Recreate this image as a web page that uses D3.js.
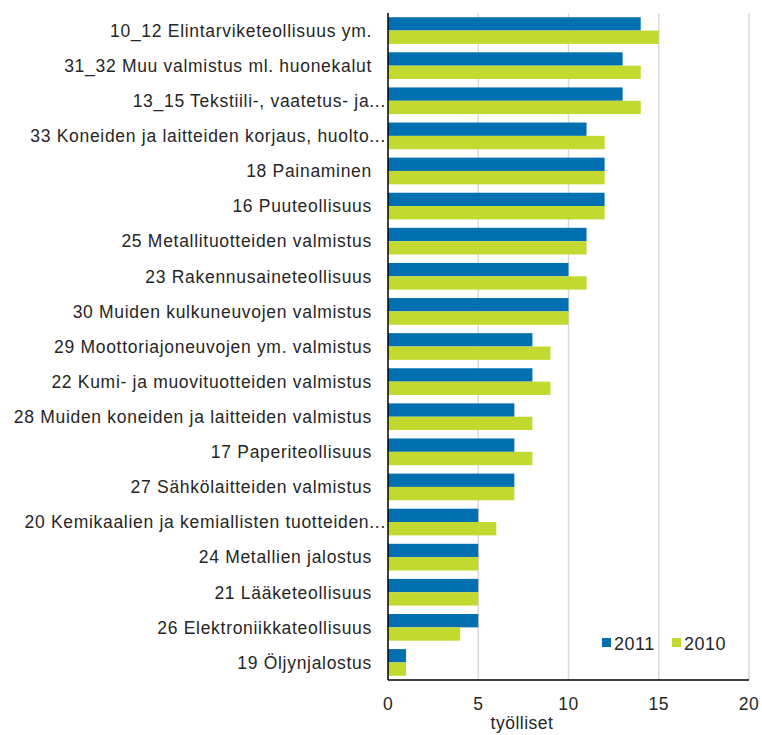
<!DOCTYPE html>
<html>
<head>
<meta charset="utf-8">
<script src="https://cdn.jsdelivr.net/npm/d3@7"></script>
<style>
  body { margin: 0; background: #fff; }
  svg { display: block; font-family: "Liberation Sans", Arial, sans-serif; }
</style>
</head>
<body>
<div id="chart"></div>
<script>
const categories = [
    "10_12 Elintarviketeollisuus ym.",
    "31_32 Muu valmistus ml. huonekalut",
    "13_15 Tekstiili-, vaatetus- ja...",
    "33 Koneiden ja laitteiden korjaus, huolto...",
    "18 Painaminen",
    "16 Puuteollisuus",
    "25 Metallituotteiden valmistus",
    "23 Rakennusaineteollisuus",
    "30 Muiden kulkuneuvojen valmistus",
    "29 Moottoriajoneuvojen ym. valmistus",
    "22 Kumi- ja muovituotteiden valmistus",
    "28 Muiden koneiden ja laitteiden valmistus",
    "17 Paperiteollisuus",
    "27 Sähkölaitteiden valmistus",
    "20 Kemikaalien ja kemiallisten tuotteiden...",
    "24 Metallien jalostus",
    "21 Lääketeollisuus",
    "26 Elektroniikkateollisuus",
    "19 Öljynjalostus"
];
const values2011 = [14, 13, 13, 11, 12, 12, 11, 10, 10, 8, 8, 7, 7, 7, 5, 5, 5, 5, 1];
const values2010 = [15, 14, 14, 12, 12, 12, 11, 11, 10, 9, 9, 8, 8, 7, 6, 5, 5, 4, 1];
const seriesNames = ["2011", "2010"];
const xTicks = [0, 5, 10, 15, 20];
const axisTitle = "työlliset";

const width = 762, height = 735;
const margin = { top: 13, right: 13, bottom: 55, left: 388 };
const colors = { "2011": "#0070b0", "2010": "#c2d92f" };
const textColor = "#262626";
const fontSize = "17.5px";

const svg = d3.select("#chart").append("svg")
    .attr("width", width)
    .attr("height", height);

const x = d3.scaleLinear().domain([0, 20]).range([margin.left, 749]);
const y = d3.scaleBand().domain(categories)
    .range([margin.top, height - margin.bottom])
    .paddingInner(0.24).paddingOuter(0.12);
const ySub = d3.scaleBand().domain(seriesNames).range([0, y.bandwidth()]);

// gridlines
svg.append("g").selectAll("line")
    .data(xTicks.slice(1))
    .join("line")
    .attr("x1", d => x(d)).attr("x2", d => x(d))
    .attr("y1", margin.top).attr("y2", height - margin.bottom)
    .attr("stroke", "#d9d9d9")
    .attr("stroke-width", 1.5);

const rows = categories.map((c, i) => ({ cat: c, "2011": values2011[i], "2010": values2010[i] }));

const groups = svg.append("g").selectAll("g")
    .data(rows)
    .join("g")
    .attr("transform", d => `translate(0,${y(d.cat)})`);

groups.selectAll("rect")
    .data(d => seriesNames.map(s => ({ s, v: d[s] })))
    .join("rect")
    .attr("x", x(0))
    .attr("y", d => ySub(d.s))
    .attr("width", d => x(d.v) - x(0))
    .attr("height", ySub.bandwidth())
    .attr("fill", d => colors[d.s]);

// category labels (truncated ones run closer to the axis)
svg.append("g").selectAll("text")
    .data(categories)
    .join("text")
    .attr("x", d => d.endsWith("...") ? 386 : 372)
    .attr("y", d => y(d) + y.bandwidth() / 2)
    .attr("dy", "0.36em")
    .attr("text-anchor", "end")
    .attr("font-size", fontSize)
    .attr("letter-spacing", "0.7px")
    .attr("fill", textColor)
    .text(d => d);

// axes lines
svg.append("line")
    .attr("x1", x(0)).attr("x2", x(20))
    .attr("y1", height - margin.bottom).attr("y2", height - margin.bottom)
    .attr("stroke", "#000").attr("stroke-width", 1.5);
svg.append("line")
    .attr("x1", x(0)).attr("x2", x(0))
    .attr("y1", margin.top).attr("y2", height - margin.bottom)
    .attr("stroke", "#000").attr("stroke-width", 1.5);

// tick labels
svg.append("g").selectAll("text")
    .data(xTicks)
    .join("text")
    .attr("x", d => x(d))
    .attr("y", 710)
    .attr("text-anchor", "middle")
    .attr("font-size", fontSize)
    .attr("letter-spacing", "0.5px")
    .attr("fill", textColor)
    .text(d => d);

svg.append("text")
    .attr("x", 522)
    .attr("y", 729)
    .attr("text-anchor", "middle")
    .attr("font-size", fontSize)
    .attr("letter-spacing", "0.5px")
    .attr("fill", textColor)
    .text(axisTitle);

// legend
const legend = svg.append("g").attr("transform", "translate(602,638)");
const legendX = [0, 70];
seriesNames.forEach((s, i) => {
    const g = legend.append("g").attr("transform", `translate(${legendX[i]},0)`);
    g.append("rect").attr("width", 9).attr("height", 9).attr("fill", colors[s]);
    g.append("text").attr("x", 12).attr("y", 12)
        .attr("font-size", "18px").attr("letter-spacing", "0.5px")
        .attr("fill", textColor).text(s);
});
</script>
</body>
</html>
